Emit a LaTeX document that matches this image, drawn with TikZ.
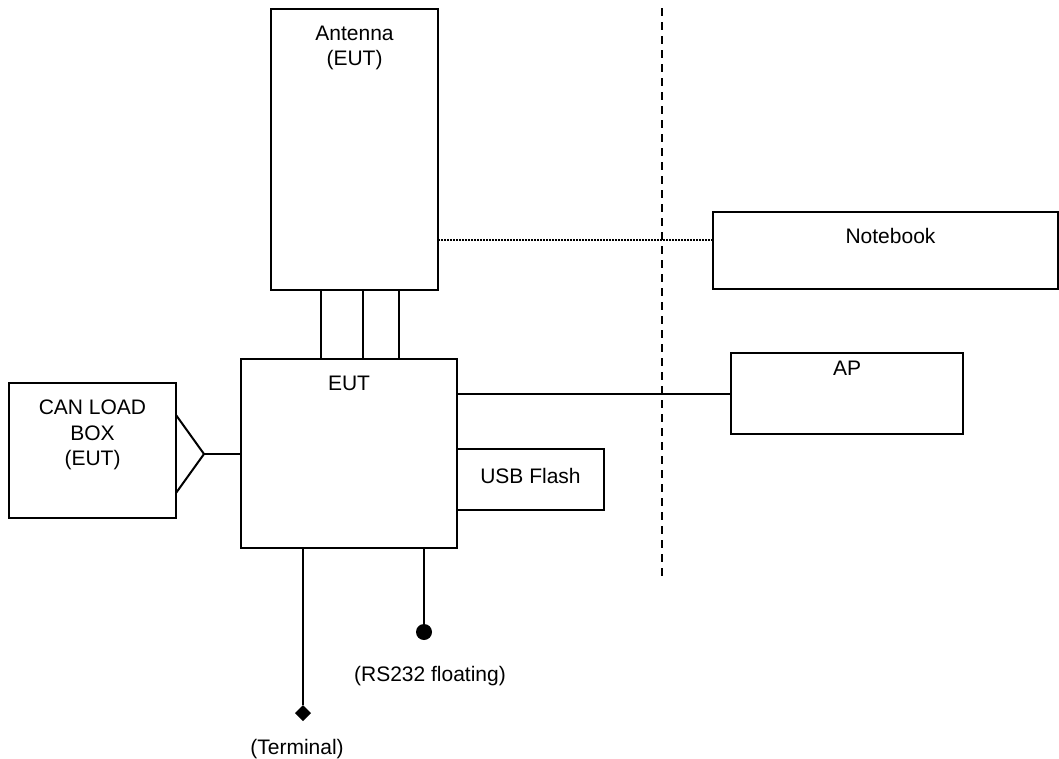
\documentclass[tikz,border=0pt]{standalone}
\usepackage{fontspec}
\setmainfont{Liberation Sans}
\usetikzlibrary{positioning,shapes.geometric}

\begin{document}
\begin{tikzpicture}[x=1pt, y=-1pt, line width=2pt,
  blk/.style={draw, anchor=north west, inner sep=0pt, outer sep=0pt},
  txt/.style={font=\fontsize{21}{25.5}\selectfont, align=center, anchor=north, inner sep=0pt},
  plug/.style={fill, inner sep=0pt, outer sep=0pt}]

  \useasboundingbox (0,0) rectangle (1059,758);

  \node[blk, minimum width=167pt, minimum height=281pt] (Ant) at (271,9) {};
  \node[blk, minimum width=216pt, minimum height=189pt] (Eut) at (241,359) {};
  \node[blk, minimum width=167pt, minimum height=135pt] (Can) at (9,383) {};
  \node[blk, minimum width=345pt, minimum height=77pt] (Nb) at (713,212) {};
  \node[blk, minimum width=232pt, minimum height=81pt] (Ap) at (731,353) {};
  \node[blk, minimum width=147pt, minimum height=61pt] (Usb) at (457,449) {};

  \node[txt, below=16pt of Ant.north] (AntT) {Antenna\\(EUT)};
  \node[txt, below=16pt of Eut.north] (EutT) {EUT};
  \node[txt, below=16pt of Can.north] (CanT) {CAN LOAD\\BOX\\(EUT)};
  \node[txt, below=15pt of Nb.north, xshift=5pt] (NbT) {Notebook};
  \node[txt, below=7pt of Ap.north] (ApT) {AP};
  \node[txt, below=18pt of Usb.north] (UsbT) {USB Flash};

  \node[plug, diamond, minimum size=16pt] (Term) at (303,713) {};
  \node[plug, circle, minimum size=16pt] (Rs) at (424,632) {};
  \node[txt, below=17pt of Term, xshift=-6pt] (TermT) {(Terminal)};
  \node[txt, below=25pt of Rs, xshift=6pt] (RsT) {(RS232 floating)};

  \coordinate (Tip) at (204,454);
  \draw (Can.east |- 0,415) -- (Tip) -- (Can.east |- 0,493);
  \draw (Tip) -- (Eut.west |- Tip);

  \foreach \x in {321,363,399}
    \draw (\x,0 |- Ant.south) -- (\x,0 |- Eut.north);

  \draw[dash pattern=on 1.5pt off 1.5pt] (Ant.east |- 0,240) -- (Nb.west |- 0,240);
  \draw (Eut.east |- Ap.west) -- (Ap.west);
  \draw (Eut.south -| Term) -- (Term);
  \draw (Eut.south -| Rs) -- (Rs);

  \draw[dash pattern=on 7.5pt off 6.5pt] (662,8) -- (662,576);

\end{tikzpicture}
\end{document}
